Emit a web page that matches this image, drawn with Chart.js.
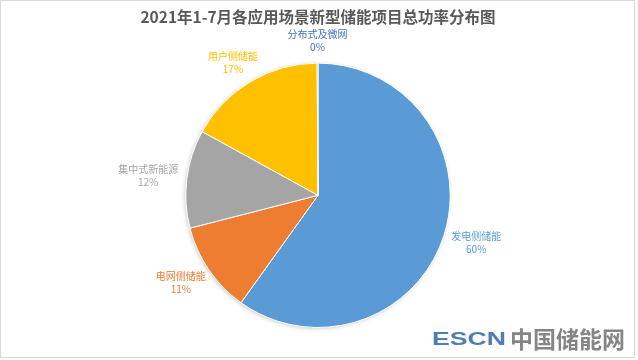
<!DOCTYPE html>
<html>
<head>
<meta charset="utf-8">
<script src="https://cdn.jsdelivr.net/npm/chart.js@4.4.0/dist/chart.umd.min.js"></script>
<style>
  html, body { margin: 0; padding: 0; background: #fff; }
  #wrap { width: 638px; height: 360px; position: relative; }
</style>
</head>
<body>
<div id="wrap"><canvas id="myChart" width="638" height="360"></canvas></div>
<script>
const titleText = '2021年1-7月各应用场景新型储能项目总功率分布图';
const categories = ['发电侧储能', '电网侧储能', '集中式新能源', '用户侧储能', '分布式及微网'];
const shares = [59.9, 11.1, 12.0, 16.9, 0.1];
const shareLabels = ['60%', '11%', '12%', '17%', '0%'];
const sliceColors = ['#5B9BD5', '#ED7D31', '#A5A5A5', '#FFC000', '#4472C4'];
const labelColors = ['#5B9BD5', '#ED7D31', '#A5A5A5', '#FFC000', '#4472C4'];

const cjkFont = '"Noto Sans CJK SC", "Noto Sans", sans-serif';

// soft shadow under the whole pie, like the Excel original
const pieShadow = {
    id: 'pieShadow',
    beforeDatasetsDraw(chart) {
        let arc = chart.getDatasetMeta(0).data[0];
        if (!arc) return;
        let c = chart.ctx;
        c.save();
        c.shadowColor = 'rgba(0,0,0,0.3)';
        c.shadowBlur = 5;
        c.shadowOffsetX = -1;
        c.shadowOffsetY = 1;
        c.fillStyle = '#fff';
        c.beginPath();
        c.arc(arc.x, arc.y, arc.outerRadius - 1, 0, Math.PI * 2);
        c.fill();
        c.restore();
    }
};

// outside labels: name + percent, placed just off the rim
const outsideLabels = {
    id: 'outsideLabels',
    afterDatasetsDraw(chart) {
        let c = chart.ctx;
        let meta = chart.getDatasetMeta(0);
        c.save();
        c.font = '10px ' + cjkFont;
        c.textAlign = 'center';
        c.textBaseline = 'middle';
        meta.data.forEach((arc, i) => {
            let mid = (arc.startAngle + arc.endAngle) / 2;
            let dx = Math.cos(mid), dy = Math.sin(mid);
            let w = c.measureText(categories[i]).width;
            let h = 27;
            let r = arc.outerRadius + 9;
            let cx = arc.x + dx * r + dx * w / 2;
            let cy = arc.y + dy * r + dy * h / 2;
            c.fillStyle = labelColors[i];
            c.fillText(categories[i], cx, cy - 6.5);
            c.fillText(shareLabels[i], cx, cy + 6.5);
        });
        c.restore();
    }
};

// frame and watermark
const frameAndMark = {
    id: 'frameAndMark',
    afterDraw(chart) {
        let c = chart.ctx;
        c.save();
        c.strokeStyle = '#d9d9d9';
        c.lineWidth = 1;
        c.strokeRect(0.5, 0.5, 634, 357);
        c.textBaseline = 'middle';
        c.textAlign = 'left';
        // ESCN is wide and squat in the original
        c.save();
        c.translate(432, 340);
        c.scale(1.4, 1);
        c.font = 'bold 19px "Liberation Sans", Arial, sans-serif';
        c.fillStyle = '#4F7DB5';
        c.fillText('ESCN', 0, 0);
        c.restore();
        c.font = 'bold 23px ' + cjkFont;
        c.fillStyle = '#858585';
        c.fillText('中国储能网', 510, 339);
        c.restore();
    }
};

const ctx = document.getElementById('myChart');

new Chart(ctx, {
    type: 'pie',
    data: {
        labels: categories,
        datasets: [{
            data: shares,
            backgroundColor: sliceColors,
            borderColor: '#fff',
            borderWidth: 1
        }]
    },
    options: {
        responsive: false,
        animation: false,
        layout: {
            padding: { top: 0, bottom: 32, left: 0, right: 2 }
        },
        plugins: {
            legend: { display: false },
            tooltip: { enabled: false },
            title: {
                display: true,
                text: titleText,
                color: '#595959',
                font: { family: cjkFont, size: 15.5, weight: 'bold', lineHeight: 1.2 },
                padding: { top: 8, bottom: 36 }
            }
        }
    },
    plugins: [pieShadow, outsideLabels, frameAndMark]
});
</script>
</body>
</html>
